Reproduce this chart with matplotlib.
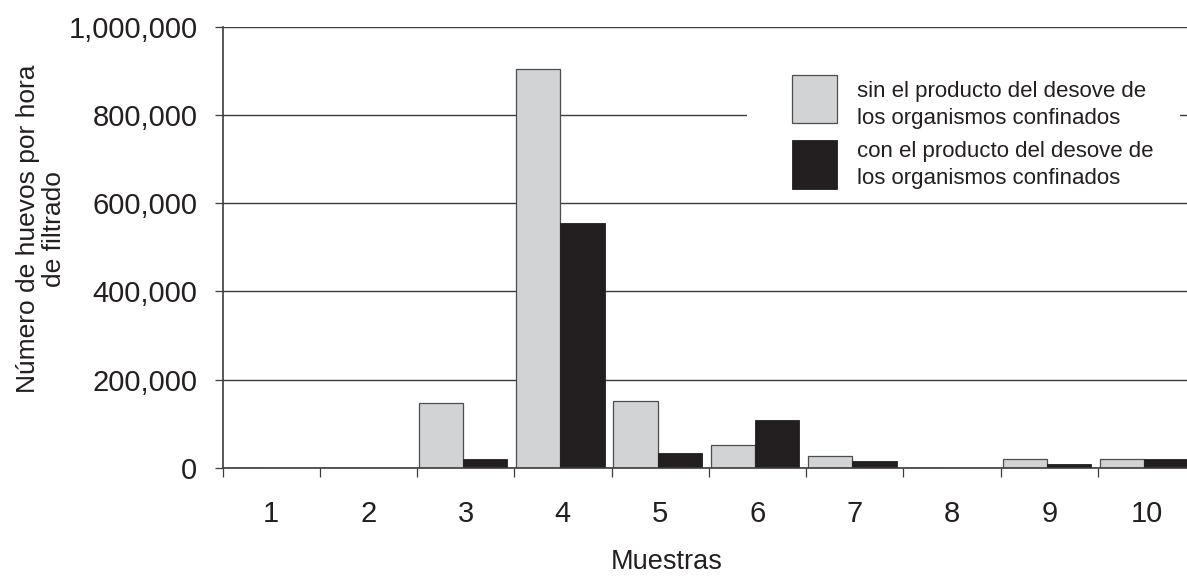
import matplotlib
matplotlib.use("Agg")
import matplotlib.pyplot as plt
import numpy as np
from matplotlib.ticker import FuncFormatter, FixedLocator
from matplotlib.patches import Rectangle
from matplotlib.container import BarContainer
from matplotlib.legend_handler import HandlerPatch, update_from_first_child

# ---- data ----
samples = ["1", "2", "3", "4", "5", "6", "7", "8", "9", "10"]
sin_producto = [0, 0, 146000, 904000, 152000, 51000, 26000, 0, 20000, 20000]
con_producto = [0, 0, 20000, 556000, 33000, 108000, 14500, 0, 7700, 20000]
label_sin = "sin el producto del desove de\nlos organismos confinados"
label_con = "con el producto del desove de\nlos organismos confinados"
y_ticks = [0, 200000, 400000, 600000, 800000, 1000000]
x_label = "Muestras"
y_label = "Número de huevos por hora\nde filtrado"

# ---- style ----
plt.rcParams['font.family'] = ['Liberation Sans', 'DejaVu Sans']
TXT = '#231f20'
GRAY = '#d1d3d4'
BLACK = '#231f20'
EDGE = '#4d4d4f'
GRID = '#3c3c3c'

W, H = 1187, 576
fig = plt.figure(figsize=(W / 100, H / 100), dpi=100)
left_px, right_px, bottom_px, top_px = 222.5, 1187, 467.7, 27
ax = fig.add_axes([left_px / W, 1 - bottom_px / H,
                   (right_px - left_px) / W, (bottom_px - top_px) / H])


def ax_x(px):
    return (px - left_px) / (right_px - left_px)


def ax_y(py):
    return (bottom_px - py) / (bottom_px - top_px)


cat_px = 97.26
x = np.arange(len(samples))
bw = 0.455
off = 0.02
bars_sin = ax.bar(x - 0.5 + off, sin_producto, width=bw, align='edge', color=GRAY,
                  edgecolor=EDGE, linewidth=0.9, label=label_sin, zorder=3)
bars_con = ax.bar(x - 0.5 + off + bw, con_producto, width=bw, align='edge',
                  color=BLACK, edgecolor=BLACK, linewidth=0.6, label=label_con,
                  zorder=3)

ax.set_xlim(-0.5, -0.5 + (right_px - left_px) / cat_px)
ax.set_ylim(0, 1000000)

# y axis
ax.set_yticks(y_ticks)
ax.yaxis.set_major_formatter(FuncFormatter(lambda v, p: f"{int(v):,}"))
ax.tick_params(axis='y', direction='out', length=6, width=0.9, color=GRID,
               pad=12, labelsize=21, labelcolor=TXT)
ax.yaxis.grid(True, color=GRID, linewidth=1.0, zorder=0)
ax.set_axisbelow(True)

# x axis: labels at centres, tick marks at boundaries
ax.set_xticks(x)
ax.set_xticklabels(samples)
ax.tick_params(axis='x', which='major', length=0, pad=23.5, labelsize=21,
               labelcolor=TXT)
ax.xaxis.set_minor_locator(FixedLocator(np.arange(-0.5, 9.0, 1.0)))
ax.tick_params(axis='x', which='minor', direction='out', length=6.5,
               width=0.9, color=GRID)

for s in ['top', 'right']:
    ax.spines[s].set_visible(False)
for s in ['left', 'bottom']:
    ax.spines[s].set_color(GRID)
    ax.spines[s].set_linewidth(1.2)
    ax.spines[s].set_zorder(4)

ax.set_xlabel(x_label, fontsize=19.5, color=TXT)
ax.xaxis.set_label_coords(ax_x(667), ax_y(549))
ax.set_ylabel(y_label, fontsize=19, color=TXT, linespacing=1.1)
ax.yaxis.label.set_horizontalalignment('center')
ax.yaxis.label.set_verticalalignment('center')
ax.yaxis.label.set_rotation_mode('default')
ax.yaxis.set_label_coords(ax_x(41), ax_y(229))

# white backing box of the legend (interrupts the 800,000 grid line)
ax.add_patch(Rectangle((ax_x(747), ax_y(196)), ax_x(1180) - ax_x(747),
                       ax_y(45) - ax_y(196), transform=ax.transAxes,
                       facecolor='white', edgecolor='none', zorder=2))

fs = 16
PT = 0.72  # points per pixel at 100 dpi


def square(legend, orig_handle, xdescent, ydescent, width, height, fontsize):
    # square swatch placed relative to the baseline of the last text line
    drop = 10.0 if orig_handle is bars_sin else 16.0
    return Rectangle((-xdescent, -drop * PT), 45 * PT, 48.3 * PT)


handler = HandlerPatch(patch_func=square, update_func=update_from_first_child)
leg = ax.legend(loc='upper left',
                bbox_to_anchor=(791.7 / W, 1 - 81 / H),
                bbox_transform=fig.transFigure, borderaxespad=0, borderpad=0,
                fontsize=fs, handlelength=45 * PT / fs, handleheight=0.7,
                handletextpad=20 * PT / fs, labelspacing=0.5,
                frameon=False,
                handler_map={BarContainer: handler})
for t in leg.get_texts():
    t.set_color(TXT)
    t.set_linespacing(1.4)
leg.set_zorder(5)

fig.savefig("out.png", dpi=100)
